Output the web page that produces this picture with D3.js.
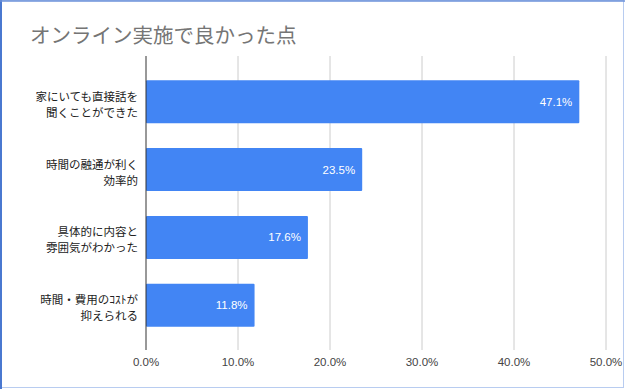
<!DOCTYPE html>
<html>
<head>
<meta charset="utf-8">
<script src="https://cdn.jsdelivr.net/npm/d3@7"></script>
<style>
  body { margin: 0; background: #fff; }
  svg { display: block; font-family: "Liberation Sans", Arial, "Noto Sans CJK JP", sans-serif; }
  .cat { font-family: "Noto Sans CJK JP", sans-serif; }
</style>
</head>
<body>
<div id="chart"></div>
<script>
// Data
var categories = [
  ["家にいても直接話を", "聞くことができた"],
  ["時間の融通が利く", "効率的"],
  ["具体的に内容と", "雰囲気がわかった"],
  ["時間・費用のｺｽﾄが", "抑えられる"]
];
var values = [0.471, 0.235, 0.176, 0.118];
var tickValues = [0, 0.1, 0.2, 0.3, 0.4, 0.5];
var title = "オンライン実施で良かった点";

var width = 625, height = 389;
var svg = d3.select("#chart").append("svg")
  .attr("width", width)
  .attr("height", height);

// frame of the screenshot
svg.append("rect").attr("x", 0.5).attr("y", 0.5)
  .attr("width", width - 2).attr("height", height - 2)
  .attr("fill", "none").attr("stroke", "#b8ccf0");
svg.append("line").attr("x1", 1).attr("x2", 1).attr("y1", 0).attr("y2", height)
  .attr("stroke", "#4a78d0").attr("stroke-width", 2);
svg.append("line").attr("x1", 0).attr("x2", width).attr("y1", 1).attr("y2", 1)
  .attr("stroke", "#6d92da").attr("stroke-width", 1.5);

svg.append("text")
  .attr("x", 30).attr("y", 43)
  .attr("font-size", 20.5)
  .attr("fill", "#757575")
  .attr("class", "cat")
  .text(title);

var xScale = d3.scaleLinear().domain([0, 0.5]).range([146, 606]);
var idx = d3.range(categories.length);
var yScale = d3.scaleBand().domain(idx).range([68, 339]).paddingInner(0.365).paddingOuter(0.18);
var gridTop = 56, gridBottom = 350;

// grid
svg.append("g").selectAll("line")
  .data(tickValues.slice(1))
  .enter().append("line")
  .attr("x1", d => xScale(d)).attr("x2", d => xScale(d))
  .attr("y1", gridTop).attr("y2", gridBottom)
  .attr("stroke", "#cccccc");

// bars
svg.append("g").selectAll("rect")
  .data(values)
  .enter().append("rect")
  .attr("x", xScale(0))
  .attr("y", (d, i) => yScale(i))
  .attr("width", d => xScale(d) - xScale(0))
  .attr("height", yScale.bandwidth())
  .attr("rx", 1)
  .attr("fill", "#4285f4");

// value labels
svg.append("g").selectAll("text")
  .data(values)
  .enter().append("text")
  .attr("x", d => xScale(d) - 7)
  .attr("y", (d, i) => yScale(i) + yScale.bandwidth() / 2 + 4)
  .attr("text-anchor", "end")
  .attr("font-size", 11.5)
  .attr("fill", "#fff")
  .text(d => d3.format(".1%")(d));

// axis line
svg.append("line")
  .attr("x1", xScale(0)).attr("x2", xScale(0))
  .attr("y1", gridTop).attr("y2", gridBottom)
  .attr("stroke", "#333");

// x tick labels
svg.append("g").selectAll("text")
  .data(tickValues)
  .enter().append("text")
  .attr("x", d => xScale(d))
  .attr("y", 366)
  .attr("text-anchor", "middle")
  .attr("font-size", 11.5)
  .attr("fill", "#444")
  .text(d => d3.format(".1%")(d));

// category labels, one text per line
var catGroups = svg.append("g").selectAll("g")
  .data(categories)
  .enter().append("g")
  .attr("transform", (d, i) => "translate(138," + (yScale(i) + yScale.bandwidth() / 2) + ")");
catGroups.selectAll("text")
  .data(d => d)
  .enter().append("text")
  .attr("class", "cat")
  .attr("text-anchor", "end")
  .attr("font-size", 11.5)
  .attr("fill", "#222")
  .attr("y", (d, j) => j === 0 ? -1 : 15)
  .text(d => d);
</script>
</body>
</html>
